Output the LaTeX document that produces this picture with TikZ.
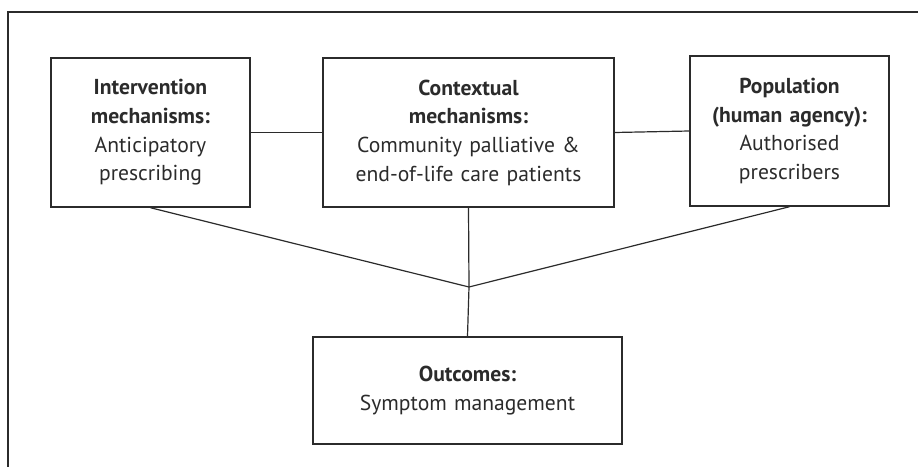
\documentclass[tikz,border=0pt]{standalone}
\usepackage{fontspec}
\setmainfont{PT Sans}
\definecolor{inkgrey}{HTML}{2B2B2B}

\tikzset{every picture/.style={line width=0.75pt}}
\tikzset{
  mechbox/.style={draw=inkgrey, line width=1.1pt, align=center, inner sep=0.75pt,
    text=inkgrey, font=\fontsize{16.2}{21.5}\selectfont},
  linkline/.style={draw=inkgrey, line width=0.9pt}
}

\begin{document}
\begin{tikzpicture}[x=0.75pt,y=0.75pt,yscale=-1,xscale=1]
\useasboundingbox (0,0) rectangle (918,467);

%Frame (cut off at right and bottom)
\draw [linkline] (918,12) -- (8,12) -- (8,467) ;

% Text Node
\node (interv) [mechbox, text width=140pt, minimum width=149.25pt, minimum height=111.75pt] at (150.5,132.5)
  {\textbf{Intervention}\\ \textbf{mechanisms:}\\ Anticipatory\\ prescribing};
% Text Node
\node (context) [mechbox, text width=210pt, minimum width=218.25pt, minimum height=111.75pt] at (468.5,132.5)
  {\textbf{Contextual}\\ \textbf{mechanisms:}\\ Community palliative \&\\ end-of-life care patients};
% Text Node
\node (popul) [mechbox, text width=140pt, minimum width=149.25pt, minimum height=112.5pt] at (789.5,131)
  {\textbf{Population}\\ \textbf{(human agency):}\\ Authorised\\ prescribers};
% Text Node
\node (outcome) [mechbox, text width=220pt, minimum width=231.75pt, minimum height=80.25pt] at (467.5,390.5)
  {\textbf{Outcomes:}\\ Symptom management};

\coordinate (hub) at (469,287);

%Straight Lines
\draw [linkline] (interv.east) -- (context.west) ;
\draw [linkline] (context.east) -- (popul.west) ;
\draw [linkline] (interv.south) -- (hub) ;
\draw [linkline] (popul.south) -- (hub) ;
\draw [linkline] (context.south) -- (hub) ;
\draw [linkline] (hub) -- (outcome.north) ;

\end{tikzpicture}
\end{document}
